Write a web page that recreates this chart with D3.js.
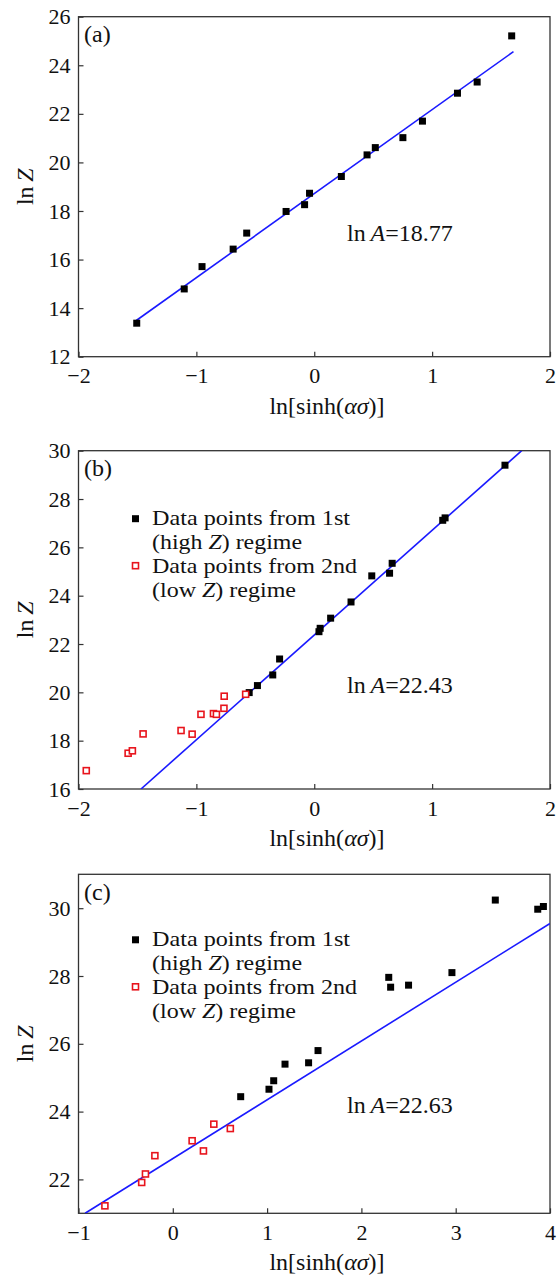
<!DOCTYPE html>
<meta charset="utf-8">
<title>ln Z vs ln[sinh(ασ)]</title>
<style>
  body { margin: 0; background: #fff; }
  svg text { font-family: "Liberation Serif", "Times New Roman", serif; fill: #111; }
</style>
<svg width="557" height="1280"></svg>
<script src="https://d3js.org/d3.v7.min.js"></script>
<script>

// (a) single regime
var aX = [-1.506, -1.103, -0.952, -0.688, -0.573, -0.239, -0.082, -0.04, 0.23, 0.448, 0.518, 0.752, 0.918, 1.215, 1.382, 1.675];
var aY = [13.38, 14.79, 15.71, 16.43, 17.09, 17.98, 18.26, 18.73, 19.42, 20.31, 20.61, 21.02, 21.70, 22.85, 23.31, 25.21];
var aFit = [[-1.51, 13.49], [1.69, 24.56]];

// (b) two regimes
var bHighX = [-0.552, -0.482, -0.352, -0.294, 0.04, 0.05, 0.139, 0.312, 0.488, 0.639, 0.661, 1.09, 1.11, 1.618];
var bHighY = [19.99, 20.28, 20.72, 21.38, 22.51, 22.65, 23.07, 23.74, 24.82, 24.93, 25.34, 27.12, 27.22, 29.40];
var bLowX = [-1.934, -1.579, -1.543, -1.452, -1.13, -1.036, -0.961, -0.855, -0.83, -0.766, -0.764, -0.582];
var bLowY = [16.76, 17.48, 17.58, 18.28, 18.42, 18.27, 19.09, 19.12, 19.09, 19.34, 19.84, 19.92];
var bFit = [[-1.47, 16], [1.76, 30]];

// (c) two regimes
var cHighX = [0.72, 1.02, 1.07, 1.19, 1.44, 1.54, 2.29, 2.31, 2.50, 2.96, 3.42, 3.87, 3.93];
var cHighY = [24.44, 24.66, 24.91, 25.40, 25.44, 25.80, 27.96, 27.67, 27.73, 28.10, 30.24, 29.97, 30.05];
var cLowX = [-0.72, -0.33, -0.29, -0.19, 0.205, 0.325, 0.435, 0.61];
var cLowY = [21.22, 21.91, 22.16, 22.70, 23.14, 22.84, 23.63, 23.50];
var cFit = [[-0.93, 21], [4.0, 29.55]];

var xTicksAB = [-2, -1, 0, 1, 2];
var xTicksC = [-1, 0, 1, 2, 3, 4];
var yTicksA = [12, 14, 16, 18, 20, 22, 24, 26];
var yTicksB = [16, 18, 20, 22, 24, 26, 28, 30];
var yTicksC = [22, 24, 26, 28, 30];

var legendLabels = [["Data points from 1st", "(high ", "Z", ") regime"],
                    ["Data points from 2nd", "(low ", "Z", ") regime"]];
var legendWidths = [198, 150, 205, 144];

var svg = d3.select("svg"),
    left = 78.5,
    right = 550;

function zip(xs, ys) { return xs.map(function(v, i) { return [v, ys[i]]; }); }

function panel(o) {
  var x = d3.scaleLinear().domain(o.xDomain).range([left, right]);
  var y = d3.scaleLinear().domain(o.yDomain).range([o.bottom, o.top]);
  var g = svg.append("g");

  var clipId = "clip" + o.label;
  g.append("clipPath").attr("id", clipId)
    .append("rect").attr("x", left).attr("y", o.top)
    .attr("width", right - left).attr("height", o.bottom - o.top);

  // x axis
  var xa = g.append("g")
    .attr("transform", "translate(0," + o.bottom + ")")
    .call(d3.axisBottom(x).tickValues(o.xTicks).tickSize(-5).tickPadding(11).tickFormat(d3.format("d")));
  // y axis
  var ya = g.append("g")
    .attr("transform", "translate(" + left + ",0)")
    .call(d3.axisLeft(y).tickValues(o.yTicks).tickSize(-5).tickPadding(8).tickFormat(d3.format("d")));
  [xa, ya].forEach(function(a) {
    a.attr("font-family", null).attr("font-size", null);
    a.select(".domain").remove();
    a.selectAll(".tick line").attr("stroke", "#333").attr("stroke-width", 1.2);
    a.selectAll(".tick text").style("font-size", "22px").attr("fill", "#111");
  });

  // frame
  g.append("rect").attr("x", left).attr("y", o.top)
    .attr("width", right - left).attr("height", o.bottom - o.top)
    .attr("fill", "none").attr("stroke", "#333").attr("stroke-width", 1.3);

  // fit line
  g.append("path")
    .attr("clip-path", "url(#" + clipId + ")")
    .attr("d", d3.line().x(function(d) { return x(d[0]); }).y(function(d) { return y(d[1]); })(o.fit))
    .attr("fill", "none").attr("stroke", "#1a1aff").attr("stroke-width", 1.6);

  // high Z points
  g.append("g").selectAll("rect").data(o.high).enter().append("rect")
    .attr("x", function(d) { return x(d[0]) - 3.5; })
    .attr("y", function(d) { return y(d[1]) - 3.5; })
    .attr("width", 7).attr("height", 7).attr("fill", "#000");

  // low Z points
  if (o.low) {
    g.append("g").selectAll("rect").data(o.low).enter().append("rect")
      .attr("x", function(d) { return x(d[0]) - 3; })
      .attr("y", function(d) { return y(d[1]) - 3; })
      .attr("width", 6).attr("height", 6)
      .attr("fill", "#fff").attr("stroke", "#e8141c").attr("stroke-width", 1.6);
  }

  // panel label
  g.append("text").attr("x", 84).attr("y", o.top + 25.5)
    .style("font-size", "24px").text("(" + o.label + ")");

  // ln A annotation
  var t = g.append("text").attr("x", 347).attr("y", o.top + o.lnAOffset)
    .style("font-size", "24px");
  t.append("tspan").text("ln\u2009");
  t.append("tspan").style("font-style", "italic").text("A");
  t.append("tspan").text("=" + o.lnA);

  // legend
  if (o.legend) {
    var ly = o.top + o.legendOffset;
    var rows = [ly, ly + 23.5, ly + 48, ly + 71.5];
    g.append("rect").attr("x", 132).attr("y", rows[0] - 10).attr("width", 7).attr("height", 7).attr("fill", "#000");
    g.append("rect").attr("x", 132.5).attr("y", rows[2] - 10.5).attr("width", 6).attr("height", 6)
      .attr("fill", "#fff").attr("stroke", "#e8141c").attr("stroke-width", 1.6);
    legendLabels.forEach(function(l, i) {
      g.append("text").attr("x", 152).attr("y", rows[i * 2]).style("font-size", "21px")
        .attr("textLength", legendWidths[i * 2]).attr("lengthAdjust", "spacingAndGlyphs").text(l[0]);
      var s = g.append("text").attr("x", 152).attr("y", rows[i * 2 + 1]).style("font-size", "21px")
        .attr("textLength", legendWidths[i * 2 + 1]).attr("lengthAdjust", "spacingAndGlyphs");
      s.append("tspan").text(l[1]);
      s.append("tspan").style("font-style", "italic").text(l[2]);
      s.append("tspan").text(l[3]);
    });
  }

  // axis titles
  var xt = g.append("text").attr("x", 327).attr("y", o.bottom + 57)
    .attr("text-anchor", "middle").style("font-size", "24px");
  xt.append("tspan").text("ln[sinh(");
  xt.append("tspan").style("font-style", "italic").text("ασ");
  xt.append("tspan").text(")]");

  var yt = g.append("text")
    .attr("transform", "translate(33," + ((o.top + o.bottom) / 2) + ")rotate(-90)")
    .attr("text-anchor", "middle").style("font-size", "24px");
  yt.append("tspan").text("ln\u2009");
  yt.append("tspan").style("font-style", "italic").text("Z");
}

panel({
  label: "a", top: 16.7, bottom: 356.7,
  xDomain: [-2, 2], yDomain: [12, 26], xTicks: xTicksAB, yTicks: yTicksA,
  high: zip(aX, aY), fit: aFit, lnA: "18.77", lnAOffset: 224
});

panel({
  label: "b", top: 450.7, bottom: 789,
  xDomain: [-2, 2], yDomain: [16, 30], xTicks: xTicksAB, yTicks: yTicksB,
  high: zip(bHighX, bHighY), low: zip(bLowX, bLowY), fit: bFit, lnA: "22.43", lnAOffset: 242,
  legend: true, legendOffset: 74.5
});

panel({
  label: "c", top: 874.3, bottom: 1213.3,
  xDomain: [-1, 4], yDomain: [21, 31], xTicks: xTicksC, yTicks: yTicksC,
  high: zip(cHighX, cHighY), low: zip(cLowX, cLowY), fit: cFit, lnA: "22.63", lnAOffset: 238.5,
  legend: true, legendOffset: 72
});

</script>
